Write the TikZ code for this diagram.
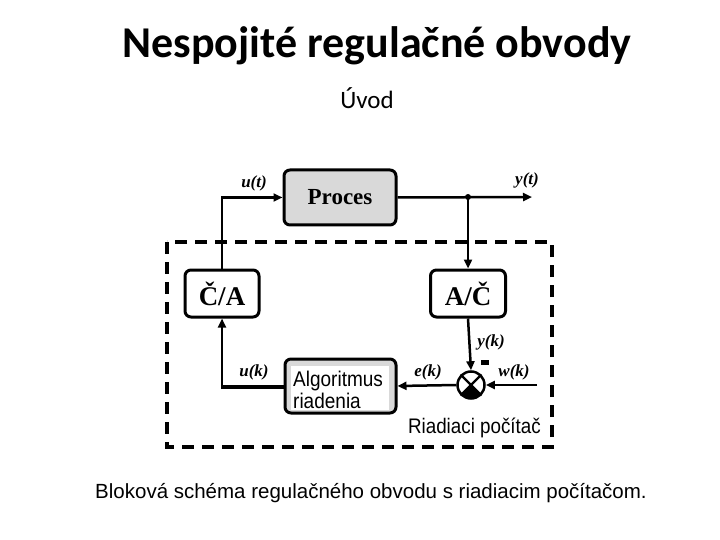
\documentclass[tikz,border=0pt]{standalone}
\usepackage{fontspec}
\usepackage{graphicx}
\setmainfont{Liberation Serif}
\setsansfont{Liberation Sans}
\newfontfamily\calfont{Carlito}
\usetikzlibrary{arrows.meta,calc}
\newcommand{\vstretch}[1]{\scalebox{1}[1.12]{#1}}
\begin{document}
\begin{tikzpicture}[x=1pt,y=-1pt,
  conn/.style={line width=2.5pt},
  arr/.style={conn,-{Triangle[length=9pt,width=8pt]}},
  blok/.style={draw,line width=3pt,rounded corners=6pt,inner sep=0pt},
  lab/.style={font=\fontsize{17}{17}\selectfont\bfseries\itshape,inner sep=0pt},
  sanslab/.style={font=\sffamily\fontsize{19}{19}\selectfont,inner sep=0pt}
]
\useasboundingbox (0,0) rectangle (720,540);
% titles
\node[font=\calfont\bfseries\fontsize{44}{44}\selectfont] (title) at (377,46) {Nespojité regulačné obvody};
\node[font=\calfont\fontsize{25}{25}\selectfont] (uvod) at (367,98) {Úvod};
% dashed frame
\draw[line width=3.5pt,dash pattern=on 12pt off 8pt] (167,242) rectangle (552,447);
% blocks
\node[blok,fill=black!15,minimum width=112pt,minimum height=55pt,font=\bfseries\fontsize{23}{23}\selectfont] (proc) at (340,197.5) {Proces};
\node[blok,fill=white,minimum width=74pt,minimum height=47pt,font=\bfseries\fontsize{27}{27}\selectfont] (ca) at (222,293.5) {Č/A};
\node[blok,fill=white,minimum width=75pt,minimum height=47pt,font=\bfseries\fontsize{27}{27}\selectfont] (ac) at (468,293.5) {A/Č};
\node[blok,fill=black!15,minimum width=111pt,minimum height=54pt] (alg) at (340.5,386) {};
\fill[white] (291,366) rectangle (389,410);
\node[sanslab,align=left,anchor=north west,font=\sffamily\fontsize{19}{22}\selectfont] (algtext) at (293,371) {\vstretch{Algoritmus}\\\vstretch{riadenia}};
% summing junction
\node[circle,draw,line width=2.5pt,minimum size=27pt,inner sep=0pt] (sum) at (471,385) {};
\fill (sum.center) -- ++(45:13.5) arc[start angle=45,end angle=135,radius=13.5] -- cycle;
\draw[line width=2.2pt] (sum.45) -- (sum.225) (sum.135) -- (sum.315);
\fill (481,360) rectangle (489,364.5);
% coordinates
\coordinate (yout) at (532,197);
\coordinate (dot) at (468,197);
\coordinate (win) at (537,385);
\coordinate (corner) at (222,387);
% connectors
\draw[arr] (ca.north) |- (proc.west);
\draw[arr] (proc.east) -- (yout);
\fill (dot) circle (3pt);
\draw[arr] (dot) -- (ac.north);
\draw[arr] (ac.south) -- (sum.north);
\draw[arr] (win) -- (sum.east);
\draw[arr] (sum.west) -- (alg.east);
\draw[line width=4.5pt] (alg.west |- corner) -- ($(corner)+(-1.25,0)$);
\draw[arr] ($(corner)+(0,2)$) -- (ca.south);
% labels
\node[lab] (lut) at (254,183) {u(t)};
\node[lab] (lyt) at (527,180) {y(t)};
\node[lab] (lyk) at (491,342) {y(k)};
\node[lab] (lek) at (428,372) {e(k)};
\node[lab] (lwk) at (514,372) {w(k)};
\node[lab] (luk) at (254,372) {u(k)};
\node[sanslab,font=\sffamily\fontsize{18.8}{18.8}\selectfont,anchor=base east] (rp) at (541,433) {\vstretch{Riadiaci počítač}};
\node[sanslab,font=\sffamily\fontsize{20.5}{20.5}\selectfont,anchor=base] (cap) at (371,498) {Bloková schéma regulačného obvodu s riadiacim počítačom.};
\end{tikzpicture}
\end{document}
